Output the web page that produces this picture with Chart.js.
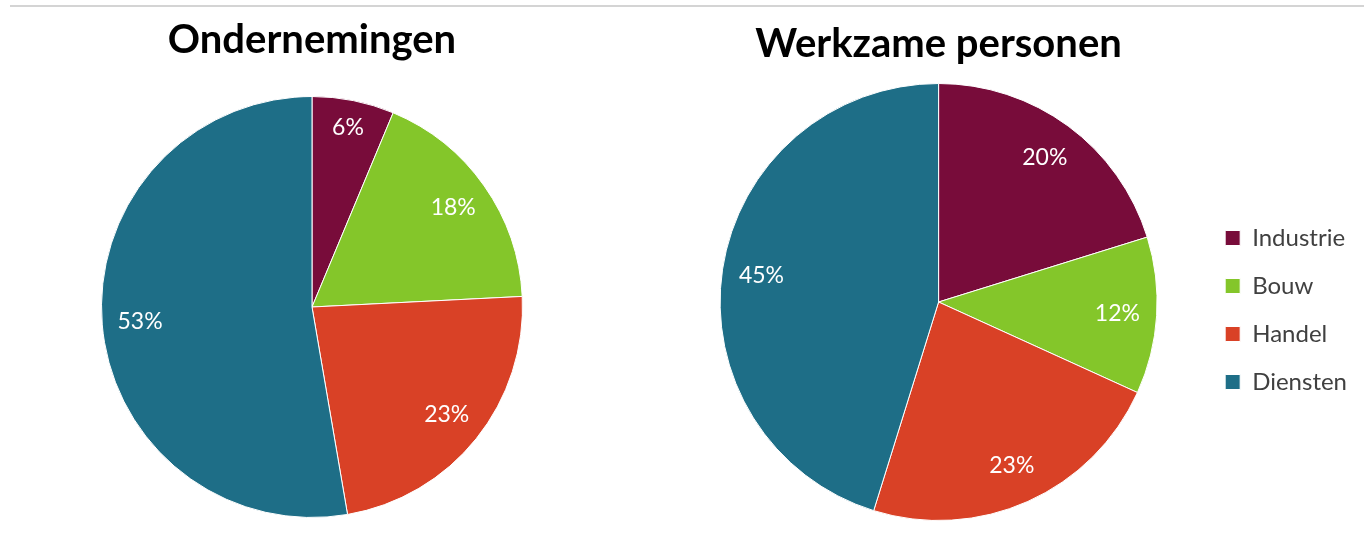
<!DOCTYPE html>
<html>
<head>
<meta charset="utf-8">
<script src="https://cdn.jsdelivr.net/npm/chart.js@4.4.0/dist/chart.umd.min.js"></script>
<style>
  html, body { margin: 0; padding: 0; background: #fff; overflow: hidden; }
  #page { position: relative; width: 1364px; height: 534px; }
  #line { position: absolute; left: 10px; top: 5px; width: 1354px; height: 0; border-top: 2px solid #d4d4d4; }
  #left { position: absolute; left: 77px; top: 0; width: 446px; height: 534px; }
  #right { position: absolute; left: 500px; top: 0; width: 857px; height: 534px; }
</style>
</head>
<body>
<div id="page">
  <div id="line"></div>
  <div id="left"><canvas id="chart1"></canvas></div>
  <div id="right"><canvas id="chart2"></canvas></div>
</div>
<script>
const sectoren = ['Industrie', 'Bouw', 'Handel', 'Diensten'];
const ondernemingen = [6.3, 17.9, 23.1, 52.7];
const werkzamePersonen = [20.2, 11.6, 23.0, 45.2];
const kleuren = ['#780c3a', '#84c62a', '#d94126', '#1e6e87'];

const font = 'Lato';

// percentages in the slices
const percentLabels = {
    id: 'percentLabels',
    afterDatasetsDraw(chart) {
        const ctx = chart.ctx;
        const ds = chart.data.datasets[0];
        chart.getDatasetMeta(0).data.forEach((arc, i) => {
            const p = arc.getProps(['x', 'y', 'startAngle', 'endAngle', 'outerRadius'], true);
            const mid = (p.startAngle + p.endAngle) / 2;
            const r = p.outerRadius * (ds.data[i] < 8 ? 0.87 : 0.82); // small slice: push out a bit
            ctx.save();
            ctx.fillStyle = '#ffffff';
            ctx.font = '23px ' + font;
            ctx.textAlign = 'center';
            ctx.textBaseline = 'middle';
            ctx.fillText(Math.round(ds.data[i]) + '%', p.x + Math.cos(mid) * r, p.y + Math.sin(mid) * r);
            ctx.restore();
        });
    }
};

function pieConfig(titel, waarden, opts) {
    return {
        type: 'pie',
        data: {
            labels: sectoren,
            datasets: [{
                data: waarden,
                backgroundColor: kleuren,
                borderColor: '#ffffff',
                borderWidth: 1
            }]
        },
        options: {
            responsive: true,
            maintainAspectRatio: false,
            animation: false,
            layout: { padding: opts.padding },
            plugins: {
                title: {
                    display: true,
                    fullSize: false,
                    text: titel,
                    color: '#000000',
                    font: { family: font, size: 40, weight: 'bold' },
                    padding: opts.titlePadding
                },
                legend: opts.legend,
                tooltip: { enabled: false }
            }
        },
        plugins: [percentLabels]
    };
}

new Chart(document.getElementById('chart1'), pieConfig('Ondernemingen', ondernemingen, {
    padding: { top: 0, right: 0, bottom: 16, left: 24 },
    titlePadding: { top: 16, bottom: 32 },
    legend: { display: false }
}));

new Chart(document.getElementById('chart2'), pieConfig('Werkzame personen', werkzamePersonen, {
    padding: { top: 0, right: 0, bottom: 13, left: 176 },
    titlePadding: { top: 20, bottom: 15 },
    legend: {
        display: true,
        position: 'right',
        fullSize: false,
        // empty title only nudges the items down a little
        title: { display: true, text: ' ', font: { size: 10 }, padding: { top: 2, bottom: 2 } },
        labels: {
            color: '#404040',
            font: { family: font, size: 24 },
            boxWidth: 15,
            boxHeight: 15,
            padding: 24
        }
    }
}));
</script>
</body>
</html>
